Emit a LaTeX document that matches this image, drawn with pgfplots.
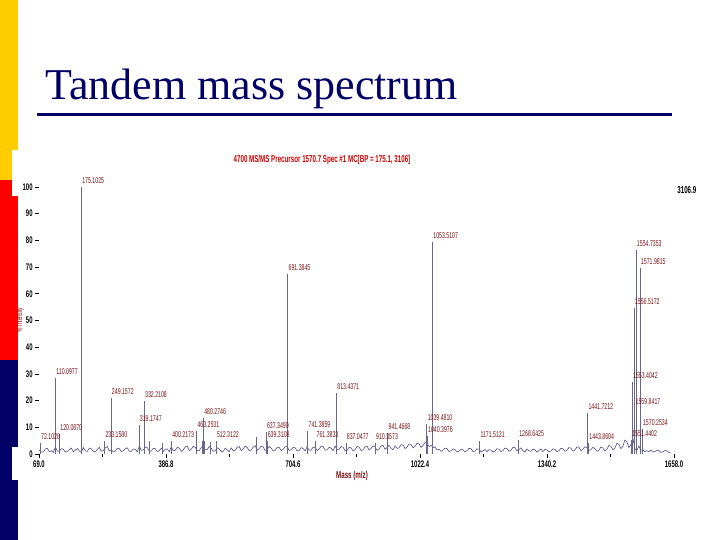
\documentclass[border=0pt]{standalone}
\usepackage{fontspec}
\setmainfont{Liberation Serif}
\newfontfamily\narrow[FakeStretch=0.62]{Liberation Sans}
\usepackage{pgfplots}
\pgfplotsset{compat=1.18}
\definecolor{slideyellow}{HTML}{FFCC00}
\definecolor{slidered}{HTML}{FF0000}
\definecolor{navy}{HTML}{000066}
\definecolor{specred}{HTML}{CC0000}
\definecolor{labred}{HTML}{7A1010}
\definecolor{noisecol}{HTML}{50508E}
\definecolor{peakcol}{HTML}{686888}
\begin{document}
\begin{tikzpicture}
\useasboundingbox (0,0) rectangle (360pt,270pt);
\begin{scope}[x=0.5pt,y=-0.5pt,yshift=270pt]
\fill[white] (0,0) rectangle (720,540);
\fill[slideyellow] (0,0) rectangle (18,180);
\fill[slidered] (0,180) rectangle (18,360);
\fill[navy] (0,360) rectangle (18,540);
\fill[white] (12,150) rectangle (18,196);
\fill[white] (12,447) rectangle (18,480);
\node[anchor=base west, inner sep=0, text=navy, font=\fontsize{22}{26}\selectfont] at (45,100) {Tandem mass spectrum};
\draw[navy, line width=1.5pt] (37,115) -- (672,115);
\node[text=specred, font=\narrow\bfseries\fontsize{5}{6}\selectfont, inner sep=0] at (322,160) {4700 MS/MS Precursor 1570.7 Spec \#1 MC[BP = 175.1, 3106]};
\node[anchor=west, font=\narrow\bfseries\fontsize{5}{6}\selectfont, inner sep=0] at (677,190) {3106.9};
\node[text=labred, font=\narrow\bfseries\fontsize{5}{6}\selectfont, inner sep=0] at (352,476) {Mass (m/z)};
\node[rotate=90, text=labred, font=\narrow\fontsize{4}{5}\selectfont, inner sep=0] at (20,320) {\% Intensity};
\end{scope}
\begin{axis}[at={(19.5pt,43pt)}, anchor=south west, scale only axis,
  width=317.5pt, height=133.5pt,
  xmin=69, xmax=1658, ymin=0, ymax=100, clip=false,
  axis x line*=bottom, axis y line*=left, axis line style={draw=none},
  xtick={69,386.8,704.6,1022.4,1340.2,1658},
  xticklabels={69.0,386.8,704.6,1022.4,1340.2,1658.0},
  minor xtick={227.9,545.7,863.5,1181.3,1499.1},
  ytick={0,10,...,100},
  tick align=outside, major tick length=2pt, minor tick length=1.5pt,
  tick style={black, line width=0.3pt},
  /pgf/number format/assume math mode=true,
  tick label style={font=\narrow\bfseries\fontsize{4.8}{5}\selectfont},
  xticklabel style={inner sep=1pt},
  yticklabel style={inner sep=1pt},
  every node near coord/.style={anchor=south west, inner sep=0pt, xshift=0.3pt, yshift=1.5pt, font=\narrow\fontsize{4.2}{4.5}\selectfont, text=labred},
]
\addplot[noisecol, line width=0.3pt, mark=none] table {
x y
70 1.5
75 0.7
80 0.8
85 1.9
90 2.1
95 0.9
100 1.2
105 0.6
110 2.6
115 1.1
120 1.0
125 2.0
130 1.8
135 0.7
140 0.9
145 1.6
150 2.2
155 0.8
160 1.4
165 2.1
170 1.1
175 0.6
180 2.4
185 1.2
190 1.0
195 2.2
200 1.9
205 0.9
210 0.8
215 1.7
220 2.5
225 1.0
230 1.3
235 2.3
240 2.8
245 1.1
250 1.6
255 0.8
260 1.1
265 2.2
270 2.0
275 0.9
280 1.2
285 2.0
290 2.3
295 1.0
300 1.0
305 1.9
310 1.7
315 0.8
320 2.9
325 1.4
330 1.5
335 2.6
340 2.4
345 1.0
350 1.1
355 2.1
360 2.0
365 0.9
370 1.3
375 2.2
380 1.0
385 1.8
390 1.9
395 0.8
400 2.7
405 1.2
410 1.4
415 2.5
420 2.2
425 1.0
430 1.6
435 2.6
440 3.0
445 1.3
450 1.8
455 2.9
460 2.5
465 1.2
470 1.3
475 2.4
480 3.2
485 1.5
490 1.7
495 2.8
500 2.1
505 1.0
510 1.2
515 2.3
520 1.9
525 0.9
530 1.0
535 2.2
540 1.6
545 0.8
550 2.3
555 1.2
560 1.4
565 2.5
570 2.8
575 1.3
580 1.9
585 3.0
590 2.4
595 1.2
600 1.5
605 2.6
610 3.1
615 1.4
620 2.0
625 3.0
630 2.6
635 1.3
640 1.7
645 2.8
650 2.2
655 1.1
660 1.4
665 2.4
670 2.5
675 1.2
680 1.8
685 2.7
690 2.9
695 1.3
700 1.6
705 2.5
710 2.3
715 1.1
720 1.3
725 2.4
730 2.0
735 1.2
740 2.7
745 1.4
750 1.5
755 2.6
760 2.4
765 1.3
770 1.9
775 2.9
780 2.8
785 1.4
790 1.6
795 2.5
800 2.2
805 1.2
810 3.0
815 1.6
820 1.8
825 2.8
830 2.5
835 1.2
840 1.4
845 2.5
850 2.3
855 1.1
860 1.7
865 2.8
870 2.6
875 1.3
880 1.5
885 2.7
890 2.9
895 1.5
900 2.1
905 3.0
910 2.6
915 1.4
920 1.8
925 3.1
930 3.2
935 1.7
940 2.4
945 3.3
950 2.0
955 1.6
960 3.0
965 2.1
970 2.3
975 3.5
980 3.4
985 2.0
990 2.6
995 3.7
1000 3.6
1005 2.3
1010 2.9
1015 4.0
1020 3.8
1025 2.5
1030 3.2
1035 4.3
1040 4.0
1045 2.8
1050 3.3
1055 2.4
1060 2.6
1065 1.5
1070 1.8
1075 1.0
1080 1.4
1085 2.2
1090 2.0
1095 0.9
1100 1.2
1105 1.9
1110 1.7
1115 0.8
1120 1.0
1125 1.8
1130 1.6
1135 0.7
1140 1.3
1145 2.1
1150 2.0
1155 0.9
1160 1.1
1165 1.9
1170 1.8
1175 0.8
1180 1.2
1185 1.7
1190 0.9
1195 1.6
1200 1.5
1205 0.7
1210 1.1
1215 2.0
1220 1.8
1225 0.9
1230 1.3
1235 2.2
1240 2.1
1245 1.0
1250 1.4
1255 2.5
1260 2.4
1265 1.1
1270 1.6
1275 2.3
1280 1.2
1285 0.8
1290 1.9
1295 1.2
1300 1.0
1305 1.8
1310 1.6
1315 0.7
1320 1.3
1325 1.9
1330 0.9
1335 1.7
1340 1.5
1345 0.8
1350 1.1
1355 1.9
1360 1.7
1365 0.9
1370 1.2
1375 2.1
1380 2.0
1385 1.0
1390 1.4
1395 2.4
1400 2.2
1405 1.1
1410 1.5
1415 2.6
1420 2.6
1425 1.2
1430 1.8
1435 2.7
1440 2.4
1445 1.3
1450 1.6
1455 2.5
1460 2.0
1465 1.0
1470 1.4
1475 2.6
1480 2.3
1485 1.2
1490 1.7
1495 3.2
1500 2.9
1505 1.6
1510 2.2
1515 4.0
1520 3.6
1525 2.0
1530 2.8
1535 5.2
1540 4.6
1545 2.4
1550 3.4
1555 6.0
1560 2.0
1565 1.2
1570 3.0
1575 1.4
1580 1.6
1585 0.9
1590 1.2
1595 0.8
1600 1.5
1605 0.7
1610 0.9
1615 1.4
1620 1.3
1625 0.6
1630 0.8
1635 1.3
1640 1.2
1645 0.6
1650 0.7
};
\addplot[ycomb, peakcol, line width=0.35pt, mark=none] table {
x y
344 5
377 4
477 5
482 5
499 4.5
612 6.5
};
\addplot[ycomb, peakcol, line width=0.35pt, mark=none, nodes near coords, point meta=explicit symbolic] table[meta=lab] {
x y lab
72.1 4 72.1028
110.1 28.5 110.0977
120.1 7.5 120.0870
175.1 100 175.1025
233.2 5 233.1580
249.2 21 249.1572
319.2 11 319.1747
332.2 20 332.2108
400.2 5 400.2173
463.3 8.6 463.2531
480.3 13.5 480.2746
512.3 5 512.3122
637.3 8.2 637.3490
639.3 5 639.3108
691.4 67.4 691.3845
741.4 8.6 741.3859
761.4 5 761.3833
813.4 22.8 813.4371
837.0 4 837.0477
910.4 4 910.3573
941.5 7.9 941.4668
1039.5 11.2 1039.4810
1040.4 6.7 1040.3976
1053.5 79.4 1053.5107
1171.5 5 1171.5131
1268.6 5.2 1268.6425
1441.7 15.4 1441.7212
1443.9 4 1443.8604
1551.4 5.2 1551.4402
1553.4 27 1553.4042
1558.0 54.7 1556.5172
1559.8 17.2 1559.8417
1563.0 76.5 1554.7353
1573.0 69.7 1571.9815
1578.3 9.4 1570.2534
};
\end{axis}
\end{tikzpicture}
\end{document}
